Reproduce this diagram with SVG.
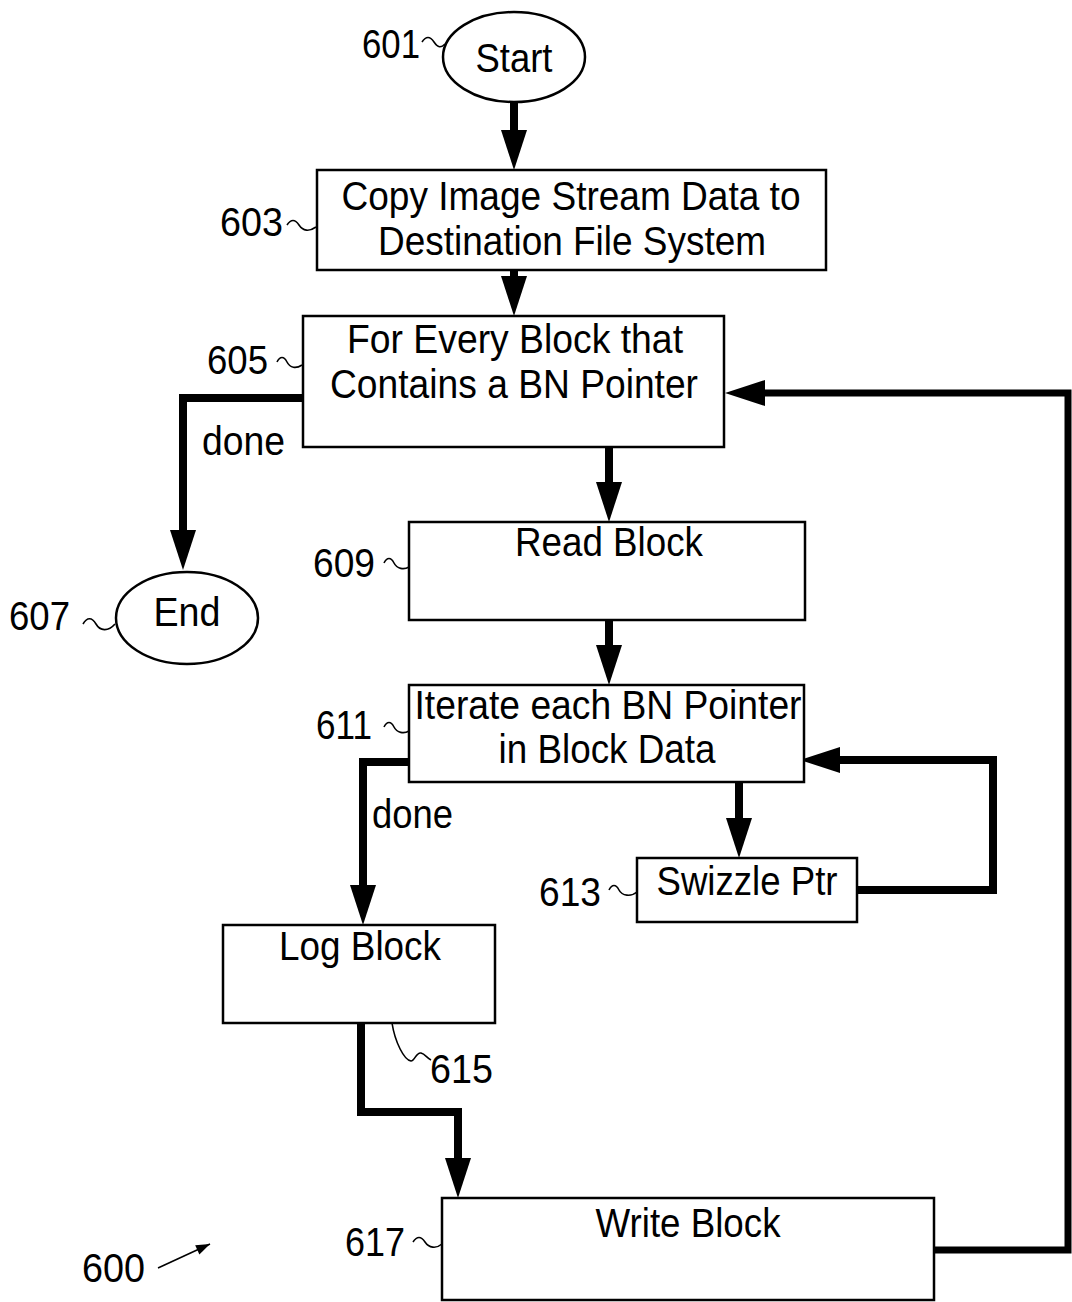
<svg xmlns="http://www.w3.org/2000/svg" width="1072" height="1302" viewBox="0 0 1072 1302">
<defs>
<style>
.box{fill:#fff;stroke:#000;stroke-width:2.5}
.t{font-family:"Liberation Sans",Arial,sans-serif;font-size:41px;fill:#000;text-anchor:middle}
.lbl{font-family:"Liberation Sans",Arial,sans-serif;font-size:40px;fill:#000}
.flow{fill:none;stroke:#000;stroke-width:8;stroke-linejoin:miter}
.thin{fill:none;stroke:#000;stroke-width:1.6}
</style>
<marker id="ah" markerUnits="userSpaceOnUse" markerWidth="40" markerHeight="26" refX="0" refY="13" orient="auto" overflow="visible">
<path d="M0,0 L40,13 L0,26 Z" fill="#000"/>
</marker>
<marker id="sa" markerUnits="userSpaceOnUse" markerWidth="14" markerHeight="10" refX="14" refY="5" orient="auto" overflow="visible">
<path d="M0,0 L14,5 L0,10 Z" fill="#000"/>
</marker>
</defs>
<rect width="1072" height="1302" fill="#fff"/>

<g id="connectors">
<path class="flow" d="M514,102 V130" marker-end="url(#ah)"/>
<path class="flow" d="M514,270 V276" marker-end="url(#ah)"/>
<path class="flow" d="M303,398 H183 V530" marker-end="url(#ah)"/>
<path class="flow" d="M609,447 V482" marker-end="url(#ah)"/>
<path class="flow" d="M609,620 V645" marker-end="url(#ah)"/>
<path class="flow" d="M409,762 H363 V885" marker-end="url(#ah)"/>
<path class="flow" d="M739,782 V818" marker-end="url(#ah)"/>
<path class="flow" d="M857,890 H993 V760 H840" marker-end="url(#ah)"/>
<path class="flow" d="M361,1023 V1112 H458 V1158" marker-end="url(#ah)"/>
<path class="flow" style="stroke-width:7" d="M934,1250 H1068 V393 H765" marker-end="url(#ah)"/>
<text class="lbl" x="202" y="455" textLength="83" lengthAdjust="spacingAndGlyphs">done</text>
<text class="lbl" x="372" y="828" textLength="81" lengthAdjust="spacingAndGlyphs">done</text>
</g>

<g id="n601">
<ellipse class="box" cx="514" cy="57" rx="71" ry="45"/>
<text class="t" x="514" y="72" textLength="77" lengthAdjust="spacingAndGlyphs">Start</text>
<text class="lbl" x="362" y="58" textLength="58" lengthAdjust="spacingAndGlyphs">601</text>
<path class="thin" d="M422,42 c4,-6 8,-6 12,0 s7,6 11,2"/>
</g>

<g id="n603">
<rect class="box" x="317" y="170" width="509" height="100"/>
<text class="t" x="571" y="210" textLength="459" lengthAdjust="spacingAndGlyphs">Copy Image Stream Data to</text>
<text class="t" x="572" y="255" textLength="388" lengthAdjust="spacingAndGlyphs">Destination File System</text>
<text class="lbl" x="220" y="236" textLength="63" lengthAdjust="spacingAndGlyphs">603</text>
<path class="thin" d="M287,225 c4,-6 8,-6 12,0 s10,7 17,2"/>
</g>

<g id="n605">
<rect class="box" x="303" y="316" width="421" height="131"/>
<text class="t" x="515" y="353" textLength="336" lengthAdjust="spacingAndGlyphs">For Every Block that</text>
<text class="t" x="514" y="398" textLength="368" lengthAdjust="spacingAndGlyphs">Contains a BN Pointer</text>
<text class="lbl" x="207" y="374" textLength="61" lengthAdjust="spacingAndGlyphs">605</text>
<path class="thin" d="M277,362 c3,-6 7,-6 10,0 s9,7 15,3"/>
</g>

<g id="n607">
<ellipse class="box" cx="187" cy="618" rx="71" ry="46"/>
<text class="t" x="187" y="626" textLength="67" lengthAdjust="spacingAndGlyphs">End</text>
<text class="lbl" x="9" y="630" textLength="61" lengthAdjust="spacingAndGlyphs">607</text>
<path class="thin" d="M83,624 c4,-7 9,-7 13,0 s12,8 19,0"/>
</g>

<g id="n609">
<rect class="box" x="409" y="522" width="396" height="98"/>
<text class="t" x="609" y="556" textLength="188" lengthAdjust="spacingAndGlyphs">Read Block</text>
<text class="lbl" x="313" y="577" textLength="62" lengthAdjust="spacingAndGlyphs">609</text>
<path class="thin" d="M384,563 c3,-6 7,-6 10,0 s10,7 15,4"/>
</g>

<g id="n611">
<rect class="box" x="409" y="685" width="395" height="97"/>
<text class="t" x="608" y="719" textLength="387" lengthAdjust="spacingAndGlyphs">Iterate each BN Pointer</text>
<text class="t" x="607" y="763" textLength="217" lengthAdjust="spacingAndGlyphs">in Block Data</text>
<text class="lbl" x="316" y="739" textLength="56" lengthAdjust="spacingAndGlyphs">611</text>
<path class="thin" d="M384,727 c3,-6 7,-6 10,0 s10,7 15,4"/>
</g>

<g id="n613">
<rect class="box" x="637" y="858" width="220" height="64"/>
<text class="t" x="747" y="895" textLength="181" lengthAdjust="spacingAndGlyphs">Swizzle Ptr</text>
<text class="lbl" x="539" y="906" textLength="62" lengthAdjust="spacingAndGlyphs">613</text>
<path class="thin" d="M609,890 c3,-6 7,-6 10,0 s12,7 18,2"/>
</g>

<g id="n615">
<rect class="box" x="223" y="925" width="272" height="98"/>
<text class="t" x="360" y="960" textLength="162" lengthAdjust="spacingAndGlyphs">Log Block</text>
<text class="lbl" x="430" y="1083" textLength="63" lengthAdjust="spacingAndGlyphs">615</text>
<path class="thin" d="M392,1023 C395,1042 404,1060 411,1061 C415,1061 416,1052 421,1053 C425,1054 427,1058 431,1060"/>
</g>

<g id="n617">
<rect class="box" x="442" y="1198" width="492" height="102"/>
<text class="t" x="688" y="1237" textLength="185" lengthAdjust="spacingAndGlyphs">Write Block</text>
<text class="lbl" x="345" y="1256" textLength="60" lengthAdjust="spacingAndGlyphs">617</text>
<path class="thin" d="M413,1242 c4,-6 8,-6 12,0 s11,7 17,2"/>
</g>

<g id="n600">
<text class="lbl" x="82" y="1282" textLength="63" lengthAdjust="spacingAndGlyphs">600</text>
<path class="thin" d="M158,1268 L210,1244" marker-end="url(#sa)"/>
</g>
</svg>
